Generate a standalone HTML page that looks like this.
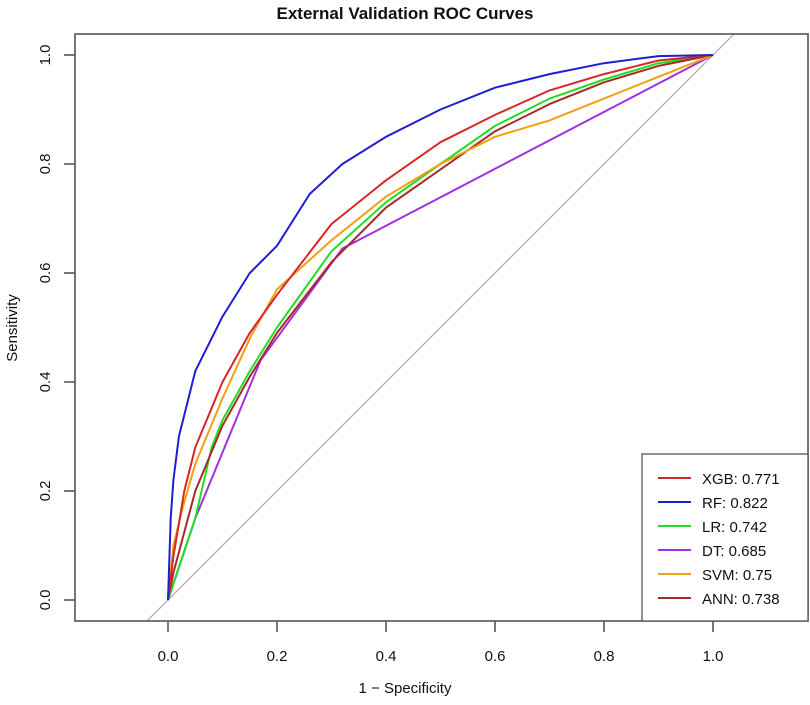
<!DOCTYPE html>
<html><head><meta charset="utf-8"><style>
body{margin:0;background:#fff;}
svg text{font-family:"Liberation Sans",Arial,sans-serif;fill:#111;}
</style></head><body>
<svg id="chart" width="810" height="700" viewBox="0 0 810 700" xmlns="http://www.w3.org/2000/svg">
<defs><clipPath id="clip"><rect x="75" y="34" width="733" height="587"/></clipPath></defs>
<text x="405" y="19" text-anchor="middle" font-size="17" font-weight="bold">External Validation ROC Curves</text>
<g id="axes"></g>
<g id="curves" clip-path="url(#clip)"></g>
<rect x="75" y="34" width="733" height="587" fill="none" stroke="#555" stroke-width="1.6"/>
<text x="405" y="693" text-anchor="middle" font-size="15">1 − Specificity</text>
<text transform="translate(17,328) rotate(-90)" text-anchor="middle" font-size="15">Sensitivity</text>
<g id="legend"></g>
</svg>
<script>
const ticks=[0,0.2,0.4,0.6,0.8,1.0];
const tickLabels=["0.0","0.2","0.4","0.6","0.8","1.0"];
const seriesNames=["XGB","RF","LR","DT","SVM","ANN"];
const aucValues=["0.771","0.822","0.742","0.685","0.75","0.738"];
const seriesColors=["#d62728","#1f1fd0","#22dd22","#a030e0","#f0a010","#a52a2a"];
const fprXGB=[0,0.01,0.03,0.05,0.1,0.15,0.2,0.3,0.4,0.5,0.6,0.7,0.8,0.9,1];
const tprXGB=[0,0.08,0.2,0.28,0.4,0.49,0.56,0.69,0.77,0.84,0.89,0.935,0.965,0.99,1];
const fprRF=[0,0.005,0.01,0.02,0.05,0.1,0.15,0.2,0.26,0.32,0.4,0.5,0.6,0.7,0.8,0.9,1];
const tprRF=[0,0.15,0.22,0.3,0.42,0.52,0.6,0.65,0.745,0.8,0.85,0.9,0.94,0.965,0.985,0.998,1];
const fprLR=[0,0.02,0.05,0.08,0.1,0.15,0.2,0.3,0.4,0.5,0.6,0.7,0.8,0.9,1];
const tprLR=[0,0.06,0.15,0.28,0.33,0.42,0.5,0.64,0.73,0.8,0.87,0.92,0.955,0.985,1];
const fprDT=[0,0.05,0.17,0.32,1];
const tprDT=[0,0.15,0.44,0.645,1];
const fprSVM=[0,0.01,0.03,0.05,0.1,0.15,0.2,0.3,0.4,0.5,0.6,0.7,0.8,0.9,1];
const tprSVM=[0,0.1,0.18,0.25,0.37,0.48,0.57,0.66,0.74,0.8,0.85,0.88,0.92,0.96,1];
const fprANN=[0,0.01,0.05,0.1,0.15,0.2,0.3,0.4,0.5,0.6,0.7,0.8,0.9,1];
const tprANN=[0,0.05,0.2,0.32,0.41,0.49,0.62,0.72,0.79,0.86,0.91,0.95,0.98,1];

const NS="http://www.w3.org/2000/svg";
const X=v=>168+v*545, Y=v=>600-v*545;
function mk(tag,attrs,parent){const e=document.createElementNS(NS,tag);for(const k in attrs)e.setAttribute(k,attrs[k]);parent.appendChild(e);return e;}
const axes=document.getElementById('axes');
ticks.forEach((t,i)=>{
  let l=mk('line',{x1:X(t),x2:X(t),y1:621,y2:632,stroke:'#333','stroke-width':1.3},axes);
  
  
  let tx=mk('text',{x:X(t),y:661,'text-anchor':'middle','font-size':15},axes);tx.textContent=tickLabels[i];
  
  
  let l2=mk('line',{x1:64,x2:75,y1:Y(t),y2:Y(t),stroke:'#333','stroke-width':1.3},axes);
  
  
  let ty=mk('text',{transform:`translate(50,${Y(t)}) rotate(-90)`,'text-anchor':'middle','font-size':15},axes);ty.textContent=tickLabels[i];
  
  
});
const curves=document.getElementById('curves');
let d=mk('line',{x1:X(-0.2),y1:Y(-0.2),x2:X(1.2),y2:Y(1.2),stroke:'#aaa','stroke-width':1.2},curves);


const fprs=[fprXGB,fprRF,fprLR,fprDT,fprSVM,fprANN], tprs=[tprXGB,tprRF,tprLR,tprDT,tprSVM,tprANN];
const order=[3,2,5,4,0,1];
order.forEach(i=>{
  const pts=fprs[i].map((f,j)=>X(f).toFixed(1)+','+Y(tprs[i][j]).toFixed(1)).join(' ');
  let p=mk('polyline',{points:pts,fill:'none',stroke:seriesColors[i],'stroke-width':2,'stroke-linejoin':'round'},curves);
  
  
});
const lg=document.getElementById('legend');
let box=mk('rect',{x:642,y:454,width:166,height:167,fill:'#fff',stroke:'#555','stroke-width':1.3},lg);


seriesNames.forEach((n,i)=>{
  const y=478+i*24;
  let l=mk('line',{x1:658,x2:691,y1:y,y2:y,stroke:seriesColors[i],'stroke-width':2},lg);
  
  
  let t=mk('text',{x:702,y:y+6,'font-size':15},lg);t.textContent=n+': '+aucValues[i];
  
  
});
</script>
</body></html>
